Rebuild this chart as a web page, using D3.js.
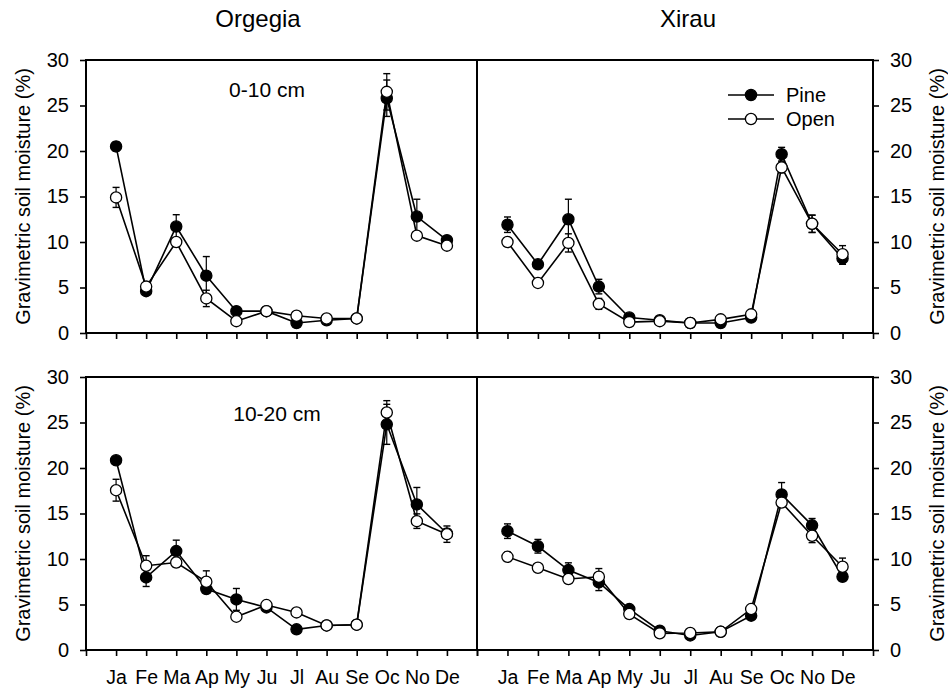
<!DOCTYPE html>
<html>
<head>
<meta charset="utf-8">
<script src="https://cdn.jsdelivr.net/npm/d3@7"></script>
<style>
  body { margin: 0; background: #fff; }
  svg { display: block; font-family: "Liberation Sans", Arial, Helvetica, sans-serif; }
</style>
</head>
<body>
<svg id="chart" width="948" height="689"></svg>
<script>
// ---------------- DATA ----------------
const months = ["Ja","Fe","Ma","Ap","My","Ju","Jl","Au","Se","Oc","No","De"];
const yTicks = [0, 5, 10, 15, 20, 25, 30];
const sites = ["Orgegia", "Xirau"];
const depths = ["0-10 cm", "10-20 cm"];
const seriesNames = ["Pine", "Open"];

// Orgegia 0-10 cm
const orgTopPine    = [20.5, 4.6, 11.7, 6.3, 2.4, 2.4, 1.1, 1.4, 1.6, 25.8, 12.8, 10.2];
const orgTopPineSE  = [0.5, 0.4, 1.3, 2.1, 0.3, 0.2, 0.2, 0.2, 0.1, 2.0, 1.9, 0.4];
const orgTopOpen    = [14.9, 5.1, 10.0, 3.8, 1.3, 2.4, 1.9, 1.6, 1.6, 26.5, 10.7, 9.6];
const orgTopOpenSE  = [1.1, 0.3, 0.3, 0.9, 0.2, 0.2, 0.2, 0.1, 0.1, 2.0, 0.4, 0.3];

// Xirau 0-10 cm
const xirTopPine    = [11.9, 7.55, 12.5, 5.1, 1.7, 1.4, 1.1, 1.1, 1.7, 19.65, 12.0, 8.2];
const xirTopPineSE  = [0.85, 0.3, 2.2, 0.8, 0.2, 0.2, 0.1, 0.1, 0.2, 0.75, 0.95, 0.65];
const xirTopOpen    = [10.0, 5.5, 9.9, 3.2, 1.2, 1.3, 1.1, 1.5, 2.05, 18.2, 12.0, 8.65];
const xirTopOpenSE  = [0.3, 0.2, 1.0, 0.6, 0.1, 0.1, 0.1, 0.1, 0.2, 0.6, 0.95, 0.95];

// Orgegia 10-20 cm
const orgBotPine    = [20.85, 7.98, 10.87, 6.7, 5.56, 4.68, 2.27, 2.7, 2.78, 24.8, 16.0, 12.8];
const orgBotPineSE  = [0.3, 1.0, 1.2, 0.4, 1.2, 0.3, 0.1, 0.1, 0.1, 2.2, 1.86, 0.5];
const orgBotOpen    = [17.56, 9.26, 9.62, 7.5, 3.66, 4.94, 4.13, 2.7, 2.78, 26.1, 14.16, 12.73];
const orgBotOpenSE  = [1.2, 1.1, 0.5, 1.2, 0.2, 0.4, 0.2, 0.1, 0.1, 1.3, 0.8, 0.9];

// Xirau 10-20 cm
const xirBotPine    = [13.06, 11.4, 8.78, 7.43, 4.5, 2.12, 1.6, 2.0, 3.77, 17.1, 13.7, 8.05];
const xirBotPineSE  = [0.8, 0.75, 0.8, 0.9, 0.2, 0.2, 0.1, 0.1, 0.2, 1.3, 0.75, 0.3];
const xirBotOpen    = [10.24, 9.04, 7.8, 8.05, 3.95, 1.83, 1.87, 2.0, 4.5, 16.2, 12.55, 9.15];
const xirBotOpenSE  = [0.5, 0.2, 0.2, 0.9, 0.2, 0.1, 0.1, 0.1, 0.2, 0.4, 0.75, 0.95];

// ---------------- LAYOUT ----------------
const svg = d3.select("#chart");
const colX = [[86, 477], [477, 873]];
const rowY = [[60, 333], [377, 650]];

const panels = [
  {col: 0, row: 0, pine: orgTopPine, pineSE: orgTopPineSE, open: orgTopOpen, openSE: orgTopOpenSE, label: depths[0], labelX: 267, labelY: 97},
  {col: 1, row: 0, pine: xirTopPine, pineSE: xirTopPineSE, open: xirTopOpen, openSE: xirTopOpenSE, legend: true},
  {col: 0, row: 1, pine: orgBotPine, pineSE: orgBotPineSE, open: orgBotOpen, openSE: orgBotOpenSE, label: depths[1], labelX: 277, labelY: 421},
  {col: 1, row: 1, pine: xirBotPine, pineSE: xirBotPineSE, open: xirBotOpen, openSE: xirBotOpenSE}
];

const R = 5.6;

panels.forEach(p => {
  const x = d3.scaleLinear().domain([0, 13]).range(colX[p.col]);
  const y = d3.scaleLinear().domain([0, 30]).range([rowY[p.row][1], rowY[p.row][0]]);
  const g = svg.append("g");

  // x axis
  const xAxis = d3.axisBottom(x)
    .tickValues(d3.range(0, 14))
    .tickSizeInner(6).tickSizeOuter(0).tickPadding(14)
    .tickFormat(d => (p.row === 1 && d >= 1 && d <= 12) ? months[d - 1] : "");
  const gx = g.append("g").attr("transform", `translate(0,${rowY[p.row][1]})`).call(xAxis);
  gx.select(".domain").remove();
  gx.selectAll(".tick line").attr("stroke", "#000").attr("stroke-width", 1.6);
  gx.selectAll(".tick text").attr("font-size", 19.5).attr("fill", "#000")
    .attr("font-family", "Liberation Sans, Arial, sans-serif");

  // y axis
  const yAxis = (p.col === 0 ? d3.axisLeft(y) : d3.axisRight(y))
    .tickValues(yTicks).tickSizeInner(6).tickSizeOuter(0).tickPadding(11);
  const gy = g.append("g")
    .attr("transform", `translate(${p.col === 0 ? colX[0][0] : colX[1][1]},0)`)
    .call(yAxis);
  gy.select(".domain").remove();
  gy.selectAll(".tick line").attr("stroke", "#000").attr("stroke-width", 1.6);
  gy.selectAll(".tick text").attr("font-size", 20).attr("fill", "#000")
    .attr("font-family", "Liberation Sans, Arial, sans-serif");

  // frame
  g.append("rect")
    .attr("x", colX[p.col][0]).attr("y", rowY[p.row][0])
    .attr("width", colX[p.col][1] - colX[p.col][0])
    .attr("height", rowY[p.row][1] - rowY[p.row][0])
    .attr("fill", "none").attr("stroke", "#000").attr("stroke-width", 2);

  const line = d3.line().x((d, i) => x(i + 1)).y(d => y(d));

  function drawSeries(vals, se, filled) {
    const s = g.append("g");
    const eb = s.selectAll("g.eb").data(vals).join("g");
    eb.append("line")
      .attr("x1", (d, i) => x(i + 1)).attr("x2", (d, i) => x(i + 1))
      .attr("y1", (d, i) => y(d - se[i])).attr("y2", (d, i) => y(d + se[i]))
      .attr("stroke", "#000").attr("stroke-width", 1.2);
    [-1, 1].forEach(sgn => {
      eb.append("line")
        .attr("x1", (d, i) => x(i + 1) - 3.5).attr("x2", (d, i) => x(i + 1) + 3.5)
        .attr("y1", (d, i) => y(d + sgn * se[i])).attr("y2", (d, i) => y(d + sgn * se[i]))
        .attr("stroke", "#000").attr("stroke-width", 1.4);
    });
    s.append("path").datum(vals).attr("d", line)
      .attr("fill", "none").attr("stroke", "#000").attr("stroke-width", 1.6);
    s.selectAll("circle").data(vals).join("circle")
      .attr("cx", (d, i) => x(i + 1)).attr("cy", d => y(d)).attr("r", R)
      .attr("fill", filled ? "#000" : "#fff").attr("stroke", "#000").attr("stroke-width", 1.3);
  }
  drawSeries(p.pine, p.pineSE, true);
  drawSeries(p.open, p.openSE, false);

  if (p.label) {
    g.append("text").attr("x", p.labelX).attr("y", p.labelY)
      .attr("text-anchor", "middle").attr("font-size", 21).text(p.label);
  }

  if (p.legend) {
    const lg = g.append("g");
    seriesNames.forEach((name, k) => {
      const ly = 95 + k * 24;
      lg.append("line").attr("x1", 728).attr("x2", 774).attr("y1", ly).attr("y2", ly)
        .attr("stroke", "#000").attr("stroke-width", 1.6);
      lg.append("circle").attr("cx", 751).attr("cy", ly).attr("r", R)
        .attr("fill", k === 0 ? "#000" : "#fff").attr("stroke", "#000").attr("stroke-width", 1.3);
      lg.append("text").attr("x", 786).attr("y", ly + 7).attr("font-size", 20).text(name);
    });
  }
});

// Site titles
svg.append("text").attr("x", 258).attr("y", 27).attr("text-anchor", "middle")
  .attr("font-size", 24).text(sites[0]);
svg.append("text").attr("x", 688).attr("y", 27).attr("text-anchor", "middle")
  .attr("font-size", 24).text(sites[1]);

// Y-axis titles
const yTitle = "Gravimetric soil moisture (%)";
rowY.forEach(r => {
  const cy = (r[0] + r[1]) / 2;
  svg.append("text").attr("transform", `translate(30,${cy}) rotate(-90)`)
    .attr("text-anchor", "middle").attr("font-size", 20).text(yTitle);
  svg.append("text").attr("transform", `translate(944,${cy}) rotate(-90)`)
    .attr("text-anchor", "middle").attr("font-size", 20).text(yTitle);
});
</script>
</body>
</html>
